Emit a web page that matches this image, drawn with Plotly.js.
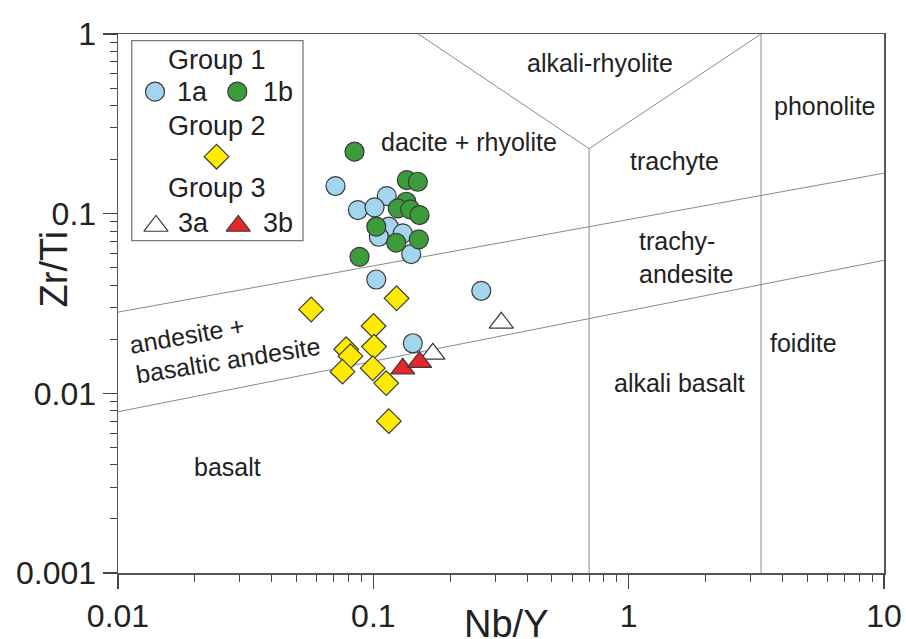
<!DOCTYPE html>
<html>
<head>
<meta charset="utf-8">
<script src="https://cdn.plot.ly/plotly-3.0.1.min.js"></script>
<style>
  html, body { margin: 0; padding: 0; background: #ffffff; }
  #chart { width: 906px; height: 639px; }
</style>
</head>
<body>
<div id="chart"></div>
<script>
// Nb/Y vs Zr/Ti classification diagram (Pearce 1996 style), log–log.

// ---- sample data ----
const nbY_1a = [0.0711, 0.1129, 0.0870, 0.1011, 0.1150, 0.1051, 0.1304, 0.1407, 0.1027, 0.2647, 0.1428];
const zrTi_1a = [0.1425, 0.1253, 0.1047, 0.1084, 0.0846, 0.0744, 0.0777, 0.0596, 0.0430, 0.0372, 0.0190];

const nbY_1b = [0.0844, 0.1353, 0.1494, 0.1346, 0.1247, 0.1395, 0.1517, 0.1027, 0.1229, 0.1507, 0.0883];
const zrTi_1b = [0.2212, 0.1538, 0.1505, 0.1165, 0.1070, 0.1057, 0.0982, 0.0846, 0.0689, 0.0719, 0.0575];

const nbY_2 = [0.0571, 0.1233, 0.1002, 0.1006, 0.0783, 0.0814, 0.0757, 0.0995, 0.1123, 0.1150];
const zrTi_2 = [0.0293, 0.0338, 0.0237, 0.0182, 0.0176, 0.0161, 0.0132, 0.0138, 0.0114, 0.0070];

const nbY_3a = [0.171, 0.317];
const zrTi_3a = [0.0166, 0.0247];

const nbY_3b = [0.1304, 0.1517];
const zrTi_3b = [0.0137, 0.0149];

// ---- field boundaries (segments separated by null) ----
const boundaryNbY  = [0.01, 10, null, 0.01, 10, null, 0.7, 0.7, null, 0.15, 0.7, 3.3, null, 3.3, 3.3];
const boundaryZrTi = [0.0283, 0.168, null, 0.0079, 0.055, null, 0.001, 0.23, null, 1, 0.23, 1, null, 0.001, 1];

// ---- field names: [text, Nb/Y, Zr/Ti] ----
const fieldNames = [
  ['alkali-rhyolite', 0.769, 0.689],
  ['phonolite', 5.85, 0.397],
  ['dacite + rhyolite', 0.238, 0.251],
  ['trachyte', 1.51, 0.196],
  ['foidite', 4.82, 0.0190],
  ['alkali basalt', 1.58, 0.0114],
  ['basalt', 0.0269, 0.00388]
];

// ---- axis ticks ----
const xTickVals = [0.01, 0.1, 1, 10];
const xTickText = ['0.01', '0.1', '1', '10'];
const yTickVals = [0.001, 0.01, 0.1, 1];
const yTickText = ['0.001', '0.01', '0.1', '1'];

const FONT = '"Liberation Sans", Arial, Helvetica, sans-serif';
const INK = '#222222';
const EDGE = '#3a3a3a';

const COL_1A = '#a3d5ef';
const COL_1B = '#3c9c3c';
const COL_2 = '#ffeb00';
const COL_3B = '#e5262a';

function minorTicks(lo, hi) {
  const out = [];
  for (let e = lo; e < hi; e++) {
    for (let m = 2; m <= 9; m++) out.push(m * Math.pow(10, e));
  }
  return out;
}

const L = Math.log10;

const traces = [
  {
    x: boundaryNbY, y: boundaryZrTi, mode: 'lines', type: 'scatter',
    line: { color: '#8a8a8a', width: 1 }, connectgaps: false, hoverinfo: 'skip'
  },
  {
    x: nbY_1a, y: zrTi_1a, mode: 'markers', type: 'scatter', name: '1a',
    marker: { symbol: 'circle', size: 19, color: COL_1A, opacity: 1, line: { color: EDGE, width: 1.2 } }
  },
  {
    x: nbY_1b, y: zrTi_1b, mode: 'markers', type: 'scatter', name: '1b',
    marker: { symbol: 'circle', size: 19, color: COL_1B, opacity: 1, line: { color: EDGE, width: 1.2 } }
  },
  {
    x: nbY_2, y: zrTi_2, mode: 'markers', type: 'scatter', name: 'Group 2',
    marker: { symbol: 'diamond', size: 19, color: COL_2, opacity: 1, line: { color: EDGE, width: 1.2 } }
  },
  {
    x: nbY_3a, y: zrTi_3a, mode: 'markers', type: 'scatter', name: '3a',
    marker: { symbol: 'triangle-up', size: 21, color: '#ffffff', opacity: 1, line: { color: EDGE, width: 1.2 } }
  },
  {
    x: nbY_3b, y: zrTi_3b, mode: 'markers', type: 'scatter', name: '3b',
    marker: { symbol: 'triangle-up', size: 21, color: COL_3B, opacity: 1, line: { color: EDGE, width: 1.2 } }
  }
];

// Key symbols live on an invisible 0–1 overlay axis pair
const keySymbols = {
  x: [0.0483, 0.1557, 0.1287, 0.0496, 0.157],
  y: [0.893, 0.893, 0.7724, 0.6438, 0.6438],
  symbol: ['circle', 'circle', 'diamond', 'triangle-up', 'triangle-up'],
  size: [19, 19, 19, 21, 21],
  color: [COL_1A, COL_1B, COL_2, '#ffffff', COL_3B]
};
traces.push({
  x: keySymbols.x, y: keySymbols.y, xaxis: 'x2', yaxis: 'y2',
  mode: 'markers', type: 'scatter', hoverinfo: 'skip',
  marker: { symbol: keySymbols.symbol, size: keySymbols.size, color: keySymbols.color,
            opacity: 1, line: { color: EDGE, width: 1.2 } }
});

const annotations = [];
fieldNames.forEach(function (f) {
  annotations.push({
    text: f[0], x: L(f[1]), y: L(f[2]), xref: 'x', yref: 'y',
    showarrow: false, xanchor: 'center', yanchor: 'middle',
    font: { family: FONT, size: 25, color: INK }
  });
});
annotations.push({
  text: 'trachy-<br>andesite', x: L(1.074), y: L(0.0573), xref: 'x', yref: 'y',
  showarrow: false, xanchor: 'left', yanchor: 'middle', align: 'left',
  font: { family: FONT, size: 25, color: INK }
});
annotations.push({
  text: 'andesite +', x: L(0.0187), y: L(0.0210), xref: 'x', yref: 'y',
  showarrow: false, textangle: -10, font: { family: FONT, size: 25, color: INK }
});
annotations.push({
  text: 'basaltic andesite', x: L(0.0269), y: L(0.0153), xref: 'x', yref: 'y',
  showarrow: false, textangle: -9, font: { family: FONT, size: 25, color: INK }
});

// key labels
const keyText = [
  ['Group 1', 0.1289, 0.9518],
  ['1a', 0.0979, 0.893],
  ['1b', 0.2089, 0.893],
  ['Group 2', 0.1289, 0.8293],
  ['Group 3', 0.1289, 0.7137],
  ['3a', 0.0992, 0.6494],
  ['3b', 0.2093, 0.6494]
];
keyText.forEach(function (k) {
  annotations.push({
    text: k[0], x: k[1], y: k[2], xref: 'paper', yref: 'paper',
    showarrow: false, xanchor: 'center', yanchor: 'middle',
    font: { family: FONT, size: 27, color: INK }
  });
});

// axis titles
annotations.push({
  text: 'Nb/Y', x: 0.507, y: -0.094, xref: 'paper', yref: 'paper',
  showarrow: false, xanchor: 'center', yanchor: 'middle',
  font: { family: FONT, size: 38, color: INK }
});
annotations.push({
  text: 'Zr/Ti', x: -0.083, y: 0.564, xref: 'paper', yref: 'paper',
  showarrow: false, textangle: -90, xanchor: 'center', yanchor: 'middle',
  font: { family: FONT, size: 38, color: INK }
});

const axisCommon = {
  type: 'log',
  showgrid: false, zeroline: false,
  showline: true, mirror: true, linecolor: '#555555', linewidth: 1.5,
  ticks: 'outside', ticklen: 14, tickwidth: 1.2, tickcolor: '#444444',
  tickmode: 'array',
  tickfont: { family: FONT, size: 32, color: INK }
};

const layout = {
  width: 906, height: 639,
  margin: { l: 118, r: 22, t: 34, b: 66 },
  paper_bgcolor: '#ffffff', plot_bgcolor: '#ffffff',
  showlegend: false,
  xaxis: Object.assign({}, axisCommon, {
    range: [-2, 1], tickvals: xTickVals, ticktext: xTickText,
    minor: { ticks: 'outside', ticklen: 7, tickwidth: 1, tickcolor: '#444444',
             tickmode: 'array', tickvals: minorTicks(-2, 1) }
  }),
  yaxis: Object.assign({}, axisCommon, {
    range: [-3, 0], tickvals: yTickVals, ticktext: yTickText,
    minor: { ticks: 'outside', ticklen: 7, tickwidth: 1, tickcolor: '#444444',
             tickmode: 'array', tickvals: minorTicks(-3, 0) }
  }),
  xaxis2: { overlaying: 'x', range: [0, 1], visible: false, fixedrange: true },
  yaxis2: { overlaying: 'y', range: [0, 1], visible: false, fixedrange: true },
  shapes: [
    { type: 'rect', xref: 'paper', yref: 'paper', x0: 0.0179, x1: 0.2415, y0: 0.6165, y1: 0.9876,
      line: { color: '#7a7a7a', width: 1.3 }, fillcolor: 'rgba(255,255,255,0)', layer: 'below' }
  ],
  annotations: annotations
};

Plotly.newPlot('chart', traces, layout, { staticPlot: true, displayModeBar: false });
</script>
</body>
</html>
